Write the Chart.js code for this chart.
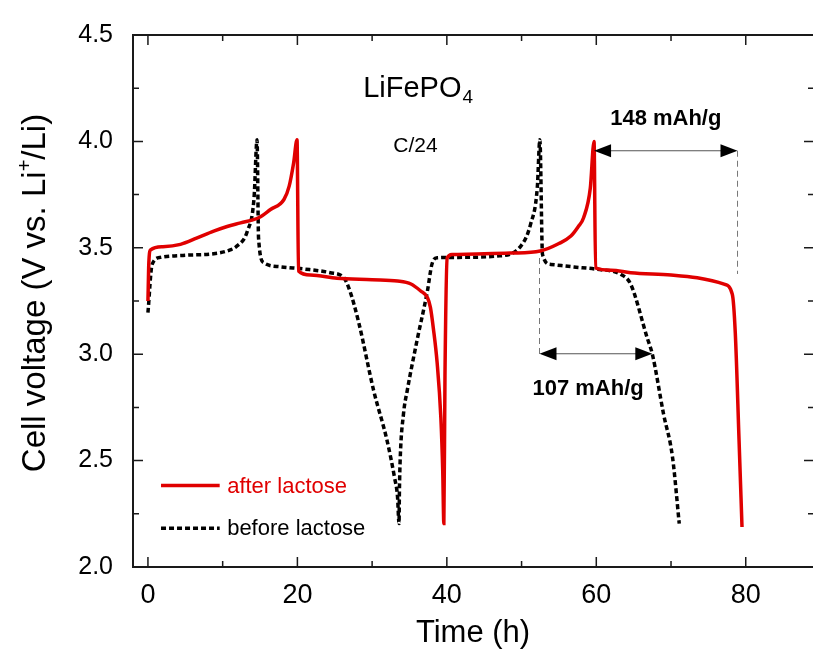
<!DOCTYPE html>
<html>
<head>
<meta charset="utf-8">
<script src="https://cdn.jsdelivr.net/npm/chart.js@4"></script>
<style>
  html, body { margin: 0; padding: 0; background: #fff; overflow: hidden; }
  #wrap { width: 813px; height: 650px; }
</style>
</head>
<body>
<div id="wrap"><canvas id="myChart" width="813" height="650"></canvas></div>
<script>
// data: time in hours, voltage in V
const afterTime = [0.0, 0.12, 0.35, 2.0, 4.35, 6.5, 8.8, 10.6, 12.4, 14.8, 16.4, 18.2, 18.9, 19.5, 19.95,
  20.15, 21.75, 25.3, 30.0, 33.4, 35.2, 36.5, 37.4, 37.8, 38.2, 38.7, 39.2, 39.45, 39.6,
  39.75, 40.05, 40.7, 44.0, 48.5, 52.5, 55.0, 56.6, 57.6, 58.3, 59.2, 59.7,
  59.9, 62.0, 64.6, 70.0, 73.5, 77.1, 78.2, 78.6, 79.1, 79.5];
const afterVolt = [3.25, 3.43, 3.49, 3.505, 3.516, 3.545, 3.578, 3.60, 3.617, 3.641, 3.68, 3.727, 3.79, 3.90, 4.008,
  3.391, 3.372, 3.357, 3.35, 3.344, 3.33, 3.297, 3.266, 3.22, 3.12, 2.96, 2.70, 2.45, 2.204,
  2.90, 3.453, 3.469, 3.471, 3.475, 3.485, 3.52, 3.555, 3.60, 3.641, 3.781, 4.0,
  3.406, 3.395, 3.383, 3.372, 3.359, 3.329, 3.282, 3.10, 2.6, 2.188];

const beforeTime = [0.0, 0.56, 1.67, 5.0, 8.8, 11.0, 11.9, 13.3, 14.2, 14.6,
  14.8, 15.5, 17.7, 21.0, 24.4, 26.2, 27.0, 28.2, 30.2, 32.0, 33.0, 33.4, 33.6,
  33.65, 33.75, 34.2, 34.7, 36.0, 37.4, 38.0, 38.7, 41.6, 46.7, 49.9, 51.2, 52.1, 52.45,
  52.8, 53.9, 57.0, 60.1, 63.3, 64.6, 66.8, 67.5, 69.0, 70.2, 71.1];
const beforeVolt = [3.195, 3.422, 3.455, 3.465, 3.472, 3.49, 3.508, 3.578, 3.735, 4.008,
  3.547, 3.43, 3.411, 3.40, 3.383, 3.36, 3.30, 3.15, 2.83, 2.594, 2.42, 2.33, 2.204,
  2.35, 2.50, 2.72, 2.829, 3.063, 3.297, 3.422, 3.453, 3.455, 3.461, 3.508, 3.61, 3.781, 4.008,
  3.469, 3.422, 3.41, 3.399, 3.375, 3.329, 3.078, 3.0, 2.719, 2.516, 2.204];

const xMajor = [0, 20, 40, 60, 80];
const xMinor = [10, 30, 50, 70];
const yMajor = [2.0, 2.5, 3.0, 3.5, 4.0, 4.5];
const yMinor = [2.25, 2.75, 3.25, 3.75, 4.25];

const seriesNames = ['after lactose', 'before lactose'];
const capacityLabels = ['148 mAh/g', '107 mAh/g'];
const yTitle = ['Cell voltage (V vs. Li', '+', '/Li)'];

const RED = '#e00000';
const FONT = "'Liberation Sans', Arial, sans-serif";

function pts(xs, ys) {
  return xs.map((t, i) => ({ x: t, y: ys[i] }));
}

function arrowHead(ctx, tipX, y, dir) {
  ctx.beginPath();
  ctx.moveTo(tipX, y);
  ctx.lineTo(tipX - dir * 17, y - 6.5);
  ctx.lineTo(tipX - dir * 17, y + 6.5);
  ctx.closePath();
  ctx.fill();
}

const decorations = {
  id: 'decorations',
  afterDraw(chart) {
    const ctx = chart.ctx;
    const a = chart.chartArea;
    const x = chart.scales.x, y = chart.scales.y;
    ctx.save();

    // frame: left, top, bottom (the right side is off the picture)
    ctx.strokeStyle = '#1a1a1a';
    ctx.lineWidth = 2;
    ctx.beginPath();
    ctx.moveTo(a.right + 4, a.top);
    ctx.lineTo(a.left, a.top);
    ctx.lineTo(a.left, a.bottom);
    ctx.lineTo(a.right + 4, a.bottom);
    ctx.stroke();
    ctx.lineWidth = 1.5;
    ctx.beginPath();
    for (const v of xMajor.concat(xMinor)) {
      const len = xMajor.includes(v) ? 10 : 6;
      const px = x.getPixelForValue(v);
      ctx.moveTo(px, a.bottom); ctx.lineTo(px, a.bottom - len);
      ctx.moveTo(px, a.top); ctx.lineTo(px, a.top + len);
    }
    for (const v of yMajor.concat(yMinor)) {
      const len = yMajor.includes(v) ? 10 : 6;
      const py = y.getPixelForValue(v);
      ctx.moveTo(a.left, py); ctx.lineTo(a.left + len, py);
      ctx.moveTo(a.right + 1, py); ctx.lineTo(a.right + 1 - len, py);
    }
    ctx.stroke();

    // y axis title with superscript
    ctx.save();
    ctx.fillStyle = '#000';
    ctx.translate(45, (a.top + a.bottom) / 2 - 8);
    ctx.rotate(-Math.PI / 2);
    ctx.font = '33px ' + FONT;
    const w0 = ctx.measureText(yTitle[0]).width;
    ctx.font = '20px ' + FONT;
    const w1 = ctx.measureText(yTitle[1]).width;
    ctx.font = '33px ' + FONT;
    const w2 = ctx.measureText(yTitle[2]).width;
    let tx = -(w0 + w1 + w2) / 2;
    ctx.textBaseline = 'alphabetic';
    ctx.textAlign = 'left';
    ctx.fillText(yTitle[0], tx, 0);
    ctx.font = '20px ' + FONT;
    ctx.fillText(yTitle[1], tx + w0, -14);
    ctx.font = '33px ' + FONT;
    ctx.fillText(yTitle[2], tx + w0 + w1, 0);
    ctx.restore();

    // sample name and rate
    ctx.fillStyle = '#000';
    ctx.textBaseline = 'alphabetic';
    ctx.textAlign = 'left';
    ctx.font = '29px ' + FONT;
    const lx = x.getPixelForValue(28.8), ly = y.getPixelForValue(4.21);
    ctx.fillText('LiFePO', lx, ly);
    const w = ctx.measureText('LiFePO').width;
    ctx.font = '19px ' + FONT;
    ctx.fillText('4', lx + w + 1, ly + 6);
    ctx.font = '21px ' + FONT;
    ctx.textAlign = 'center';
    ctx.fillText('C/24', x.getPixelForValue(35.8), y.getPixelForValue(3.95));

    // capacity arrows
    ctx.strokeStyle = '#555';
    ctx.fillStyle = '#000';
    ctx.lineWidth = 1.2;
    const arrows = [
      { from: 59.7, to: 78.9, v: 3.956, dashAt: 78.9, dashFrom: 3.956, dashTo: 3.377 },
      { from: 52.4, to: 67.5, v: 3.002, dashAt: 52.4, dashFrom: 3.452, dashTo: 2.983 }
    ];
    for (const ar of arrows) {
      const x1 = x.getPixelForValue(ar.from), x2 = x.getPixelForValue(ar.to), py = y.getPixelForValue(ar.v);
      ctx.setLineDash([]);
      ctx.beginPath(); ctx.moveTo(x1 + 10, py); ctx.lineTo(x2 - 10, py); ctx.stroke();
      arrowHead(ctx, x1, py, -1);
      arrowHead(ctx, x2, py, 1);
      ctx.setLineDash([6, 4]);
      ctx.strokeStyle = '#777';
      ctx.lineWidth = 1;
      const dx = x.getPixelForValue(ar.dashAt);
      ctx.beginPath(); ctx.moveTo(dx, y.getPixelForValue(ar.dashFrom)); ctx.lineTo(dx, y.getPixelForValue(ar.dashTo)); ctx.stroke();
      ctx.strokeStyle = '#555';
      ctx.lineWidth = 1.2;
    }
    ctx.setLineDash([]);
    ctx.font = 'bold 22px ' + FONT;
    ctx.textAlign = 'center';
    ctx.fillText(capacityLabels[0], x.getPixelForValue(69.3), y.getPixelForValue(4.078));
    ctx.fillText(capacityLabels[1], x.getPixelForValue(58.9), y.getPixelForValue(2.808));

    // legend
    const legY = [2.383, 2.182];
    const ds = chart.data.datasets;
    ctx.font = '22px ' + FONT;
    ctx.textAlign = 'left';
    ctx.textBaseline = 'middle';
    for (let i = 0; i < ds.length; i++) {
      const py = y.getPixelForValue(legY[i]);
      ctx.strokeStyle = ds[i].borderColor;
      ctx.lineWidth = ds[i].borderWidth;
      ctx.setLineDash(ds[i].borderDash || []);
      ctx.beginPath();
      ctx.moveTo(x.getPixelForValue(1.75), py);
      ctx.lineTo(x.getPixelForValue(9.6), py);
      ctx.stroke();
      ctx.fillStyle = ds[i].borderColor;
      ctx.fillText(ds[i].label, x.getPixelForValue(10.6), py + 1);
    }
    ctx.restore();
  }
};

const ctx = document.getElementById('myChart').getContext('2d');
const myChart = new Chart(ctx, {
  type: 'line',
  data: {
    datasets: [{
      label: seriesNames[0],
      data: pts(afterTime, afterVolt),
      borderColor: RED,
      borderWidth: 3.5,
      pointRadius: 0,
      cubicInterpolationMode: 'monotone',
      fill: false
    }, {
      label: seriesNames[1],
      data: pts(beforeTime, beforeVolt),
      borderColor: '#000',
      borderWidth: 3.5,
      borderDash: [5, 3],
      pointRadius: 0,
      cubicInterpolationMode: 'monotone',
      fill: false
    }]
  },
  options: {
    responsive: false,
    animation: false,
    layout: { padding: { top: 33, right: 0, left: 0, bottom: 0 } },
    plugins: { legend: { display: false }, tooltip: { enabled: false } },
    scales: {
      x: {
        type: 'linear',
        min: -2,
        max: 89,
        grid: { display: false, drawTicks: false },
        border: { display: false },
        afterBuildTicks: s => { s.ticks = xMajor.map(v => ({ value: v })); },
        afterFit: s => { s.height = 83; },
        ticks: { color: '#000', padding: 12, font: { family: FONT, size: 27 } },
        title: { display: true, text: 'Time (h)', color: '#000', padding: { top: 0, bottom: -2 }, font: { family: FONT, size: 31 } }
      },
      y: {
        type: 'linear',
        min: 2.0,
        max: 4.5,
        grid: { display: false, drawTicks: false },
        border: { display: false },
        afterBuildTicks: s => { s.ticks = yMajor.map(v => ({ value: v })); },
        afterFit: s => { s.width = 133; },
        ticks: { color: '#000', padding: 20, font: { family: FONT, size: 25 }, callback: v => v.toFixed(1) },
        title: { display: false }
      }
    }
  },
  plugins: [decorations]
});
</script>
</body>
</html>
